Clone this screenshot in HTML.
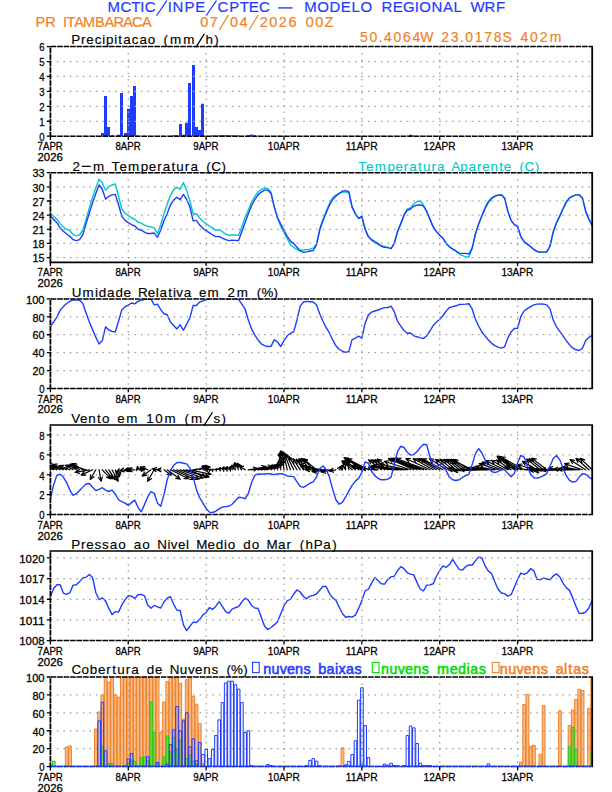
<!DOCTYPE html>
<html><head><meta charset="utf-8"><title>Meteograma</title>
<style>html,body{margin:0;padding:0;background:#fff}svg{display:block}text{font-family:"Liberation Sans",sans-serif}</style>
</head><body>
<svg width="612" height="792" viewBox="0 0 612 792" font-family="Liberation Sans, sans-serif">
<rect width="612" height="792" fill="#fff"/>
<clipPath id="c0"><rect x="50.4" y="46.1" width="541.8" height="90.6"/></clipPath>
<clipPath id="c1"><rect x="50.4" y="172.2" width="541.8" height="90.6"/></clipPath>
<clipPath id="c2"><rect x="50.4" y="298.4" width="541.8" height="90.6"/></clipPath>
<clipPath id="c3"><rect x="50.4" y="424.5" width="541.8" height="90.6"/></clipPath>
<clipPath id="c4"><rect x="50.4" y="550.5" width="541.8" height="90.6"/></clipPath>
<clipPath id="c5"><rect x="50.4" y="676.5" width="541.8" height="90.6"/></clipPath>
<g clip-path="url(#c0)">
<path d="M101 132.91h3V136.2h-3zM104 96.03h3V136.2h-3zM107 126.94h3V136.2h-3zM111 135.15h3V136.2h-3zM117 134.71h3V136.2h-3zM120 93.04h3V136.2h-3zM124 132.91h3V136.2h-3zM127 108.87h3V136.2h-3zM130 96.03h3V136.2h-3zM133 86.02h3V136.2h-3zM136 135.45h3V136.2h-3zM172 135.3h3V136.2h-3zM175 135.3h3V136.2h-3zM179 123.95h3V136.2h-3zM182 134.86h3V136.2h-3zM185 122.76h3V136.2h-3zM188 82.89h3V136.2h-3zM192 64.97h3V136.2h-3zM195 126.94h3V136.2h-3zM198 129.93h3V136.2h-3zM201 103.79h3V136.2h-3zM211 135.45h3V136.2h-3zM214 135.45h3V136.2h-3zM218 135.3h3V136.2h-3zM221 135.3h3V136.2h-3zM224 135.3h3V136.2h-3zM227 135.3h3V136.2h-3zM231 135.3h3V136.2h-3zM234 135.45h3V136.2h-3zM237 135.6h3V136.2h-3zM247 135.3h3V136.2h-3zM250 134.41h3V136.2h-3zM253 135.3h3V136.2h-3zM409 134.71h3V136.2h-3zM412 135.45h3V136.2h-3z" fill="rgb(30,60,255)"/>
</g>
<path d="M50.4 136.2H592.2M50.4 121.27H592.2M50.4 106.33H592.2M50.4 91.4H592.2M50.4 76.47H592.2M50.4 61.53H592.2M50.4 46.6H592.2" stroke="rgb(160,160,160)" stroke-width="1.25" stroke-dasharray="1.6 4.88" fill="none"/>
<path d="M50.4 46.6V136.2M128.26 46.6V136.2M206.13 46.6V136.2M283.99 46.6V136.2M361.85 46.6V136.2M439.72 46.6V136.2M517.58 46.6V136.2" stroke="rgb(160,160,160)" stroke-width="1.25" stroke-dasharray="1.6 4.88" fill="none"/>
<path d="M49.6 46.6H593" stroke="#000" stroke-width="1.5" stroke-dasharray="5.5 0.98" stroke-dashoffset="-1.2" fill="none"/>
<path d="M49.6 136.2H593" stroke="#000" stroke-width="1.5" stroke-dasharray="5.5 0.98" stroke-dashoffset="-1.2" fill="none"/>
<path d="M50.4 46.6V136.2" stroke="#000" stroke-width="1.8" stroke-dasharray="5.5 0.98" stroke-dashoffset="-1.2" fill="none"/>
<path d="M592.2 46.6V136.2" stroke="#000" stroke-width="1.8" fill="none"/>
<path d="M46.8 136.2H50.4M46.8 121.27H50.4M46.8 106.33H50.4M46.8 91.4H50.4M46.8 76.47H50.4M46.8 61.53H50.4M46.8 46.6H50.4M50.4 136.2V140M128.26 136.2V140M206.13 136.2V140M283.99 136.2V140M361.85 136.2V140M439.72 136.2V140M517.58 136.2V140" stroke="#000" stroke-width="1.3" fill="none"/>
<text x="44.6" y="140.95" font-size="11.3" fill="#000" textLength="5.33" lengthAdjust="spacingAndGlyphs" text-anchor="end" stroke="#000" stroke-width="0.28" xml:space="preserve">0</text>
<text x="44.6" y="126.02" font-size="11.3" fill="#000" textLength="5.33" lengthAdjust="spacingAndGlyphs" text-anchor="end" stroke="#000" stroke-width="0.28" xml:space="preserve">1</text>
<text x="44.6" y="111.08" font-size="11.3" fill="#000" textLength="5.33" lengthAdjust="spacingAndGlyphs" text-anchor="end" stroke="#000" stroke-width="0.28" xml:space="preserve">2</text>
<text x="44.6" y="96.15" font-size="11.3" fill="#000" textLength="5.33" lengthAdjust="spacingAndGlyphs" text-anchor="end" stroke="#000" stroke-width="0.28" xml:space="preserve">3</text>
<text x="44.6" y="81.22" font-size="11.3" fill="#000" textLength="5.33" lengthAdjust="spacingAndGlyphs" text-anchor="end" stroke="#000" stroke-width="0.28" xml:space="preserve">4</text>
<text x="44.6" y="66.28" font-size="11.3" fill="#000" textLength="5.33" lengthAdjust="spacingAndGlyphs" text-anchor="end" stroke="#000" stroke-width="0.28" xml:space="preserve">5</text>
<text x="44.6" y="51.35" font-size="11.3" fill="#000" textLength="5.33" lengthAdjust="spacingAndGlyphs" text-anchor="end" stroke="#000" stroke-width="0.28" xml:space="preserve">6</text>
<text x="50.2" y="150.2" font-size="11.3" fill="#000" textLength="25.31" lengthAdjust="spacingAndGlyphs" text-anchor="middle" stroke="#000" stroke-width="0.28" xml:space="preserve">7APR</text>
<text x="128.06" y="150.2" font-size="11.3" fill="#000" textLength="25.31" lengthAdjust="spacingAndGlyphs" text-anchor="middle" stroke="#000" stroke-width="0.28" xml:space="preserve">8APR</text>
<text x="205.93" y="150.2" font-size="11.3" fill="#000" textLength="25.31" lengthAdjust="spacingAndGlyphs" text-anchor="middle" stroke="#000" stroke-width="0.28" xml:space="preserve">9APR</text>
<text x="283.79" y="150.2" font-size="11.3" fill="#000" textLength="31.97" lengthAdjust="spacingAndGlyphs" text-anchor="middle" stroke="#000" stroke-width="0.28" xml:space="preserve">10APR</text>
<text x="361.65" y="150.2" font-size="11.3" fill="#000" textLength="31.97" lengthAdjust="spacingAndGlyphs" text-anchor="middle" stroke="#000" stroke-width="0.28" xml:space="preserve">11APR</text>
<text x="439.52" y="150.2" font-size="11.3" fill="#000" textLength="31.97" lengthAdjust="spacingAndGlyphs" text-anchor="middle" stroke="#000" stroke-width="0.28" xml:space="preserve">12APR</text>
<text x="517.38" y="150.2" font-size="11.3" fill="#000" textLength="31.97" lengthAdjust="spacingAndGlyphs" text-anchor="middle" stroke="#000" stroke-width="0.28" xml:space="preserve">13APR</text>
<text x="50.2" y="161.1" font-size="11.3" fill="#000" textLength="25.31" lengthAdjust="spacingAndGlyphs" text-anchor="middle" stroke="#000" stroke-width="0.28" xml:space="preserve">2026</text>
<g clip-path="url(#c1)">
<polyline points="50.4,213.26 53.64,216.56 56.89,219.39 60.13,223.63 63.38,226.93 66.62,229.29 69.87,230.7 73.11,234.48 76.35,235.89 79.6,234.95 82.84,230.23 86.09,219.39 89.33,207.6 92.58,197.22 95.82,187.79 99.06,179.3 102.31,183.07 105.55,190.15 108.8,186.38 112.04,184.96 115.29,184.02 118.53,196.28 121.77,209.01 125.02,213.26 128.26,215.61 131.51,217.97 134.75,219.15 138,222.22 141.24,223.16 144.49,225.05 147.73,226.46 150.97,226.93 154.22,227.87 157.46,233.53 160.71,225.05 163.95,213.73 167.2,204.3 170.44,195.34 173.68,189.68 176.93,187.32 180.17,189.21 183.42,182.6 186.66,190.62 189.91,200.99 193.15,213.73 196.39,213.73 199.64,217.97 202.88,221.51 206.13,223.63 209.37,225.99 212.62,227.87 215.86,230.42 219.1,229.76 222.35,231.65 225.59,234.01 228.84,235.42 232.08,234.95 235.33,234.95 238.57,235.42 241.81,226.93 245.06,217.5 248.3,209.95 251.55,202.41 254.79,196.28 258.04,192.03 261.28,189.44 264.52,188.26 267.77,188.5 271.01,192.03 274.26,206.65 277.5,217.97 280.75,226.46 283.99,232.59 287.23,238.72 290.48,244.85 293.72,247.21 296.97,249.57 300.21,250.51 303.46,250.04 306.7,249.57 309.94,249.1 313.19,248.15 316.43,244.38 319.68,229.29 322.92,219.39 326.17,211.37 329.41,203.82 332.66,197.46 335.9,194.86 339.14,193.45 342.39,192.03 345.63,192.03 348.88,192.51 352.12,207.13 355.37,213.73 358.61,218.44 361.85,216.32 365.1,229.29 368.34,236.36 371.59,239.43 374.83,241.31 378.08,243.44 381.32,245.56 384.56,246.74 387.81,247.45 391.05,248.62 394.3,243.44 397.54,231.65 400.79,223.63 404.03,214.67 407.27,209.01 410.52,207.83 413.76,204.06 417.01,201.47 420.25,200.99 423.5,205.24 426.74,211.37 429.98,219.39 433.23,226.93 436.47,231.65 439.72,235.18 442.96,238.25 446.21,243.44 449.45,246.74 452.69,249.1 455.94,251.22 459.18,254.05 462.43,255.7 465.67,256.64 468.92,257.11 472.16,248.62 475.4,234.01 478.65,224.1 481.89,215.61 485.14,207.13 488.38,200.99 491.63,197.69 494.87,196.04 498.11,195.1 501.36,194.86 504.6,198.17 507.85,211.37 511.09,220.33 514.34,224.57 517.58,226.46 520.83,236.6 524.07,241.55 527.31,243.91 530.56,246.5 533.8,249.33 537.05,251.45 540.29,252.16 543.54,252.16 546.78,251.93 550.02,246.27 553.27,231.65 556.51,222.69 559.76,216.09 563,208.54 566.25,201.47 569.49,197.69 572.73,196.04 575.98,194.86 579.22,194.86 582.47,198.17 585.71,211.37 588.96,219.39 592.2,225.99" fill="none" stroke="rgb(0,200,200)" stroke-width="1.4" stroke-linejoin="round" stroke-linecap="round"/>
<polyline points="50.4,216.09 53.64,219.39 56.89,222.69 60.13,227.87 63.38,231.18 66.62,234.01 69.87,236.36 73.11,239.66 76.35,240.61 79.6,239.66 82.84,234.48 86.09,223.63 89.33,212.78 92.58,202.88 95.82,193.45 99.06,184.96 102.31,189.21 105.55,199.11 108.8,196.28 112.04,194.86 115.29,194.39 118.53,204.77 121.77,216.09 125.02,220.33 128.26,222.69 131.51,224.57 134.75,225.99 138,229.05 141.24,230.23 144.49,232.12 147.73,233.53 150.97,233.53 154.22,233.06 157.46,237.31 160.71,230.23 163.95,220.8 167.2,213.73 170.44,204.77 173.68,200.05 176.93,197.22 180.17,199.58 183.42,194.39 186.66,199.58 189.91,207.13 193.15,220.8 196.39,220.33 199.64,225.05 202.88,228.35 206.13,230.7 209.37,232.59 212.62,234.95 215.86,236.6 219.1,236.36 222.35,238.01 225.59,239.66 228.84,240.61 232.08,240.14 235.33,240.37 238.57,240.61 241.81,231.65 245.06,222.69 248.3,213.73 251.55,205.71 254.79,199.58 258.04,194.86 261.28,192.03 264.52,190.15 267.77,190.15 271.01,193.45 274.26,207.13 277.5,217.5 280.75,224.1 283.99,230.23 287.23,236.36 290.48,241.08 293.72,243.44 296.97,247.21 300.21,250.98 303.46,252.4 306.7,251.93 309.94,250.98 313.19,250.51 316.43,244.85 319.68,230.23 322.92,220.8 326.17,212.78 329.41,205.24 332.66,199.58 335.9,196.28 339.14,193.45 342.39,191.09 345.63,190.62 348.88,191.56 352.12,207.13 355.37,213.73 358.61,218.44 361.85,216.32 365.1,229.29 368.34,236.6 371.59,240.14 374.83,242.02 378.08,244.14 381.32,246.27 384.56,247.21 387.81,247.68 391.05,248.62 394.3,243.44 397.54,231.65 400.79,223.63 404.03,215.14 407.27,210.43 410.52,209.01 413.76,206.18 417.01,205.24 420.25,204.77 423.5,206.18 426.74,211.37 429.98,219.39 433.23,226.93 436.47,231.65 439.72,235.18 442.96,238.25 446.21,243.44 449.45,246.74 452.69,249.1 455.94,250.98 459.18,253.1 462.43,253.34 465.67,253.34 468.92,254.05 472.16,248.15 475.4,234.01 478.65,224.1 481.89,216.09 485.14,208.54 488.38,202.41 491.63,198.64 494.87,196.28 498.11,195.1 501.36,194.86 504.6,198.17 507.85,211.37 511.09,220.33 514.34,224.57 517.58,226.46 520.83,236.6 524.07,241.55 527.31,244.14 530.56,246.74 533.8,249.57 537.05,251.45 540.29,252.16 543.54,252.16 546.78,251.93 550.02,246.27 553.27,231.65 556.51,222.69 559.76,216.09 563,209.01 566.25,202.41 569.49,198.17 572.73,196.04 575.98,194.86 579.22,194.86 582.47,198.17 585.71,211.37 588.96,219.39 592.2,225.52" fill="none" stroke="rgb(30,60,255)" stroke-width="1.4" stroke-linejoin="round" stroke-linecap="round"/>
</g>
<path d="M50.4 257.58H592.2M50.4 243.44H592.2M50.4 229.29H592.2M50.4 215.14H592.2M50.4 200.99H592.2M50.4 186.85H592.2M50.4 172.7H592.2" stroke="rgb(160,160,160)" stroke-width="1.25" stroke-dasharray="1.6 4.88" fill="none"/>
<path d="M50.4 172.7V262.3M128.26 172.7V262.3M206.13 172.7V262.3M283.99 172.7V262.3M361.85 172.7V262.3M439.72 172.7V262.3M517.58 172.7V262.3" stroke="rgb(160,160,160)" stroke-width="1.25" stroke-dasharray="1.6 4.88" fill="none"/>
<path d="M49.6 172.7H593" stroke="#000" stroke-width="1.5" stroke-dasharray="5.5 0.98" stroke-dashoffset="-1.2" fill="none"/>
<path d="M49.6 262.3H593" stroke="#000" stroke-width="1.8" fill="none"/>
<path d="M50.4 172.7V262.3" stroke="#000" stroke-width="1.8" stroke-dasharray="5.5 0.98" stroke-dashoffset="-1.2" fill="none"/>
<path d="M592.2 172.7V262.3" stroke="#000" stroke-width="1.8" fill="none"/>
<path d="M46.8 257.58H50.4M46.8 243.44H50.4M46.8 229.29H50.4M46.8 215.14H50.4M46.8 200.99H50.4M46.8 186.85H50.4M46.8 172.7H50.4M50.4 262.3V266.1M128.26 262.3V266.1M206.13 262.3V266.1M283.99 262.3V266.1M361.85 262.3V266.1M439.72 262.3V266.1M517.58 262.3V266.1" stroke="#000" stroke-width="1.3" fill="none"/>
<text x="44.6" y="262.33" font-size="11.3" fill="#000" textLength="11.99" lengthAdjust="spacingAndGlyphs" text-anchor="end" stroke="#000" stroke-width="0.28" xml:space="preserve">15</text>
<text x="44.6" y="248.19" font-size="11.3" fill="#000" textLength="11.99" lengthAdjust="spacingAndGlyphs" text-anchor="end" stroke="#000" stroke-width="0.28" xml:space="preserve">18</text>
<text x="44.6" y="234.04" font-size="11.3" fill="#000" textLength="11.99" lengthAdjust="spacingAndGlyphs" text-anchor="end" stroke="#000" stroke-width="0.28" xml:space="preserve">21</text>
<text x="44.6" y="219.89" font-size="11.3" fill="#000" textLength="11.99" lengthAdjust="spacingAndGlyphs" text-anchor="end" stroke="#000" stroke-width="0.28" xml:space="preserve">24</text>
<text x="44.6" y="205.74" font-size="11.3" fill="#000" textLength="11.99" lengthAdjust="spacingAndGlyphs" text-anchor="end" stroke="#000" stroke-width="0.28" xml:space="preserve">27</text>
<text x="44.6" y="191.6" font-size="11.3" fill="#000" textLength="11.99" lengthAdjust="spacingAndGlyphs" text-anchor="end" stroke="#000" stroke-width="0.28" xml:space="preserve">30</text>
<text x="44.6" y="177.45" font-size="11.3" fill="#000" textLength="11.99" lengthAdjust="spacingAndGlyphs" text-anchor="end" stroke="#000" stroke-width="0.28" xml:space="preserve">33</text>
<text x="50.2" y="276.3" font-size="11.3" fill="#000" textLength="25.31" lengthAdjust="spacingAndGlyphs" text-anchor="middle" stroke="#000" stroke-width="0.28" xml:space="preserve">7APR</text>
<text x="128.06" y="276.3" font-size="11.3" fill="#000" textLength="25.31" lengthAdjust="spacingAndGlyphs" text-anchor="middle" stroke="#000" stroke-width="0.28" xml:space="preserve">8APR</text>
<text x="205.93" y="276.3" font-size="11.3" fill="#000" textLength="25.31" lengthAdjust="spacingAndGlyphs" text-anchor="middle" stroke="#000" stroke-width="0.28" xml:space="preserve">9APR</text>
<text x="283.79" y="276.3" font-size="11.3" fill="#000" textLength="31.97" lengthAdjust="spacingAndGlyphs" text-anchor="middle" stroke="#000" stroke-width="0.28" xml:space="preserve">10APR</text>
<text x="361.65" y="276.3" font-size="11.3" fill="#000" textLength="31.97" lengthAdjust="spacingAndGlyphs" text-anchor="middle" stroke="#000" stroke-width="0.28" xml:space="preserve">11APR</text>
<text x="439.52" y="276.3" font-size="11.3" fill="#000" textLength="31.97" lengthAdjust="spacingAndGlyphs" text-anchor="middle" stroke="#000" stroke-width="0.28" xml:space="preserve">12APR</text>
<text x="517.38" y="276.3" font-size="11.3" fill="#000" textLength="31.97" lengthAdjust="spacingAndGlyphs" text-anchor="middle" stroke="#000" stroke-width="0.28" xml:space="preserve">13APR</text>
<text x="50.2" y="287.2" font-size="11.3" fill="#000" textLength="25.31" lengthAdjust="spacingAndGlyphs" text-anchor="middle" stroke="#000" stroke-width="0.28" xml:space="preserve">2026</text>
<g clip-path="url(#c2)">
<polyline points="50.4,326.41 53.64,322.02 56.89,317.18 60.13,310.28 63.38,306.61 66.62,303.47 69.87,301.41 73.11,299.98 76.35,299.89 79.6,300.24 82.84,303.47 86.09,313.06 89.33,322.02 92.58,329.63 95.82,337.16 99.06,344.06 102.31,340.56 105.55,326.86 108.8,329.99 112.04,331.42 115.29,331.96 118.53,321.3 121.77,310.01 125.02,306.87 128.26,305.17 131.51,303.02 134.75,303.83 138,301.41 141.24,300.24 144.49,299.35 147.73,299.35 150.97,299.17 154.22,304.81 157.46,304.1 160.71,309.65 163.95,313.77 167.2,314.76 170.44,322.02 173.68,325.42 176.93,328.92 180.17,324.79 183.42,330.26 186.66,324.08 189.91,317.9 193.15,305.53 196.39,305.53 199.64,302.04 202.88,300.96 206.13,299.89 209.37,298.9 212.62,298.9 215.86,298.9 219.1,298.9 222.35,298.9 225.59,298.9 228.84,298.9 232.08,298.9 235.33,298.9 238.57,299.35 241.81,304.1 245.06,308.94 248.3,319.96 251.55,328.92 254.79,335.1 258.04,339.94 261.28,343.79 264.52,345.67 267.77,346.48 271.01,346.39 274.26,339.67 277.5,342 280.75,346.48 283.99,340.56 287.23,335.82 290.48,333.31 293.72,331.69 296.97,319.96 300.21,306.16 303.46,302.04 306.7,301.41 309.94,301.68 313.19,302.04 316.43,304.81 319.68,313.77 322.92,321.3 326.17,327.57 329.41,332.77 332.66,339.94 335.9,345.67 339.14,349.26 342.39,351.23 345.63,352.3 348.88,351.32 352.12,339.67 355.37,338.23 358.61,336.17 361.85,338.06 365.1,323.36 368.34,315.12 371.59,312.07 374.83,311 378.08,310.01 381.32,308.58 384.56,307.59 387.81,307.59 391.05,306.16 394.3,311.71 397.54,321.3 400.79,326.14 404.03,330.53 407.27,333.31 410.52,333.04 413.76,335.82 417.01,336.71 420.25,337.88 423.5,338.5 426.74,335.82 429.98,330.98 433.23,325.42 436.47,322.02 439.72,319.24 442.96,315.83 446.21,311 449.45,307.59 452.69,306.61 455.94,305.8 459.18,304.54 462.43,304.37 465.67,304.1 468.92,303.74 472.16,308.94 475.4,319.24 478.65,326.14 481.89,331.96 485.14,336.08 488.38,339.94 491.63,343.34 494.87,345.67 498.11,347.19 501.36,348.18 504.6,346.84 507.85,337.88 511.09,331.96 514.34,328.47 517.58,328.2 520.83,316.55 524.07,311 527.31,308.58 530.56,306.61 533.8,304.81 537.05,304.1 540.29,303.83 543.54,304.1 546.78,304.81 550.02,308.94 553.27,319.96 556.51,326.86 559.76,331.42 563,335.82 566.25,340.56 569.49,344.78 572.73,347.91 575.98,349.79 579.22,350.51 582.47,348.18 585.71,340.56 588.96,337.43 592.2,335.37" fill="none" stroke="rgb(30,60,255)" stroke-width="1.4" stroke-linejoin="round" stroke-linecap="round"/>
</g>
<path d="M50.4 388.5H592.2M50.4 370.58H592.2M50.4 352.66H592.2M50.4 334.74H592.2M50.4 316.82H592.2M50.4 298.9H592.2" stroke="rgb(160,160,160)" stroke-width="1.25" stroke-dasharray="1.6 4.88" fill="none"/>
<path d="M50.4 298.9V388.5M128.26 298.9V388.5M206.13 298.9V388.5M283.99 298.9V388.5M361.85 298.9V388.5M439.72 298.9V388.5M517.58 298.9V388.5" stroke="rgb(160,160,160)" stroke-width="1.25" stroke-dasharray="1.6 4.88" fill="none"/>
<path d="M49.6 298.9H593" stroke="#000" stroke-width="1.5" stroke-dasharray="5.5 0.98" stroke-dashoffset="-1.2" fill="none"/>
<path d="M49.6 388.5H593" stroke="#000" stroke-width="1.5" stroke-dasharray="5.5 0.98" stroke-dashoffset="-1.2" fill="none"/>
<path d="M50.4 298.9V388.5" stroke="#000" stroke-width="1.8" stroke-dasharray="5.5 0.98" stroke-dashoffset="-1.2" fill="none"/>
<path d="M592.2 298.9V388.5" stroke="#000" stroke-width="1.8" fill="none"/>
<path d="M46.8 388.5H50.4M46.8 370.58H50.4M46.8 352.66H50.4M46.8 334.74H50.4M46.8 316.82H50.4M46.8 298.9H50.4M50.4 388.5V392.3M128.26 388.5V392.3M206.13 388.5V392.3M283.99 388.5V392.3M361.85 388.5V392.3M439.72 388.5V392.3M517.58 388.5V392.3" stroke="#000" stroke-width="1.3" fill="none"/>
<text x="44.6" y="393.25" font-size="11.3" fill="#000" textLength="5.33" lengthAdjust="spacingAndGlyphs" text-anchor="end" stroke="#000" stroke-width="0.28" xml:space="preserve">0</text>
<text x="44.6" y="375.33" font-size="11.3" fill="#000" textLength="11.99" lengthAdjust="spacingAndGlyphs" text-anchor="end" stroke="#000" stroke-width="0.28" xml:space="preserve">20</text>
<text x="44.6" y="357.41" font-size="11.3" fill="#000" textLength="11.99" lengthAdjust="spacingAndGlyphs" text-anchor="end" stroke="#000" stroke-width="0.28" xml:space="preserve">40</text>
<text x="44.6" y="339.49" font-size="11.3" fill="#000" textLength="11.99" lengthAdjust="spacingAndGlyphs" text-anchor="end" stroke="#000" stroke-width="0.28" xml:space="preserve">60</text>
<text x="44.6" y="321.57" font-size="11.3" fill="#000" textLength="11.99" lengthAdjust="spacingAndGlyphs" text-anchor="end" stroke="#000" stroke-width="0.28" xml:space="preserve">80</text>
<text x="44.6" y="303.65" font-size="11.3" fill="#000" textLength="18.65" lengthAdjust="spacingAndGlyphs" text-anchor="end" stroke="#000" stroke-width="0.28" xml:space="preserve">100</text>
<text x="50.2" y="402.5" font-size="11.3" fill="#000" textLength="25.31" lengthAdjust="spacingAndGlyphs" text-anchor="middle" stroke="#000" stroke-width="0.28" xml:space="preserve">7APR</text>
<text x="128.06" y="402.5" font-size="11.3" fill="#000" textLength="25.31" lengthAdjust="spacingAndGlyphs" text-anchor="middle" stroke="#000" stroke-width="0.28" xml:space="preserve">8APR</text>
<text x="205.93" y="402.5" font-size="11.3" fill="#000" textLength="25.31" lengthAdjust="spacingAndGlyphs" text-anchor="middle" stroke="#000" stroke-width="0.28" xml:space="preserve">9APR</text>
<text x="283.79" y="402.5" font-size="11.3" fill="#000" textLength="31.97" lengthAdjust="spacingAndGlyphs" text-anchor="middle" stroke="#000" stroke-width="0.28" xml:space="preserve">10APR</text>
<text x="361.65" y="402.5" font-size="11.3" fill="#000" textLength="31.97" lengthAdjust="spacingAndGlyphs" text-anchor="middle" stroke="#000" stroke-width="0.28" xml:space="preserve">11APR</text>
<text x="439.52" y="402.5" font-size="11.3" fill="#000" textLength="31.97" lengthAdjust="spacingAndGlyphs" text-anchor="middle" stroke="#000" stroke-width="0.28" xml:space="preserve">12APR</text>
<text x="517.38" y="402.5" font-size="11.3" fill="#000" textLength="31.97" lengthAdjust="spacingAndGlyphs" text-anchor="middle" stroke="#000" stroke-width="0.28" xml:space="preserve">13APR</text>
<text x="50.2" y="413.4" font-size="11.3" fill="#000" textLength="25.31" lengthAdjust="spacingAndGlyphs" text-anchor="middle" stroke="#000" stroke-width="0.28" xml:space="preserve">2026</text>
<path d="M50.4 514.6H592.2M50.4 494.69H592.2M50.4 474.78H592.2M50.4 454.87H592.2M50.4 434.96H592.2" stroke="rgb(160,160,160)" stroke-width="1.25" stroke-dasharray="1.6 4.88" fill="none"/>
<path d="M50.4 425V514.6M128.26 425V514.6M206.13 425V514.6M283.99 425V514.6M361.85 425V514.6M439.72 425V514.6M517.58 425V514.6" stroke="rgb(160,160,160)" stroke-width="1.25" stroke-dasharray="1.6 4.88" fill="none"/>
<g clip-path="url(#c3)">
<path d="M50.4 469.8L43.75 467.11M43.75 467.11L46.88 470.48M43.75 467.11L48.34 466.87M53.64 469.8L40.85 464.63M40.85 464.63L43.99 467.99M40.85 464.63L45.44 464.39M56.89 469.8L40.08 463.01M40.08 463.01L43.22 466.37M40.08 463.01L44.68 462.77M60.13 469.8L42.86 462.82M42.86 462.82L46 466.19M42.86 462.82L47.45 462.58M63.38 469.8L47.3 463.3M47.3 463.3L50.44 466.67M47.3 463.3L51.89 463.06M66.62 469.8L52.89 464.25M52.89 464.25L56.03 467.62M52.89 464.25L57.48 464.01M69.87 469.8L59.37 465.56M59.37 465.56L62.51 468.93M59.37 465.56L63.97 465.32M73.11 469.8L65.46 465.2M65.46 465.2L68.03 469.02M65.46 465.2L70.04 465.68M76.35 469.8L68.07 464.82M68.07 464.82L70.65 468.64M68.07 464.82L72.65 465.31M79.6 469.8L70.02 464.04M70.02 464.04L72.59 467.86M70.02 464.04L74.59 464.52M82.84 469.8L71.96 463.26M71.96 463.26L74.53 467.07M71.96 463.26L76.54 463.74M86.09 469.8L72.54 465.66M72.54 465.66L75.96 468.74M72.54 465.66L77.09 465.02M89.33 469.8L75.2 472.29M75.2 472.29L79.64 473.48M75.2 472.29L78.97 469.65M92.58 469.8L81.15 475.13M81.15 475.13L85.75 475.13M81.15 475.13L84.11 471.6M95.82 469.8L90.25 479.44M90.25 479.44L94.02 476.8M90.25 479.44L90.66 474.86M99.06 469.8L101.09 481.26M101.09 481.26L102.28 476.82M101.09 481.26L98.45 477.49M102.31 469.8L110.78 478.88M110.78 478.88L109.36 474.51M110.78 478.88L106.51 477.16M105.55 469.8L112.52 478.72M112.52 478.72L111.49 474.24M112.52 478.72L108.42 476.63M108.8 469.8L115.19 479.65M115.19 479.65L114.55 475.09M115.19 479.65L111.29 477.21M112.04 469.8L118.15 481.29M118.15 481.29L117.91 476.7M118.15 481.29L114.48 478.52M115.29 469.8L117.73 478.91M117.73 478.91L118.53 474.38M117.73 478.91L114.77 475.38M118.53 469.8L119.48 476.59M119.48 476.59L120.83 472.19M119.48 476.59L116.98 472.73M121.77 469.8L116.11 471.86M116.11 471.86L120.69 472.26M116.11 471.86L119.36 468.61M125.02 469.8L119.81 470.72M119.81 470.72L124.25 471.91M119.81 470.72L123.58 468.08M128.26 469.8L124.05 470.17M124.05 470.17L128.37 471.74M124.05 470.17L128.03 467.87M131.51 469.8L125.99 469.8M125.99 469.8L130.16 471.74M125.99 469.8L130.16 467.86M134.75 469.8L128.08 469.8M128.08 469.8L132.25 471.74M128.08 469.8L132.25 467.86M138 469.8L137.41 466.49M137.41 466.49L136.28 470.71M137.41 466.49L139.92 470.07M141.24 469.8L140.13 469.16M140.13 469.16L141.62 471.29M140.13 469.16L142.72 469.38M144.49 469.8L140.86 466.97M140.86 466.97L142.95 471.07M140.86 466.97L145.34 468M147.73 469.8L140.08 467.02M140.08 467.02L143.33 470.27M140.08 467.02L144.66 466.61M150.97 469.8L142.34 476.07M142.34 476.07L146.86 475.2M142.34 476.07L144.57 472.05M154.22 469.8L147.57 481.31M147.57 481.31L151.34 478.67M147.57 481.31L147.97 476.73M157.46 469.8L152.25 468.88M152.25 468.88L156.02 471.52M152.25 468.88L156.7 467.69M160.71 469.8L156.84 469.8M156.84 469.8L161.01 471.74M156.84 469.8L161.01 467.86M163.95 469.8L171.32 475.15M171.32 475.15L169.09 471.13M171.32 475.15L166.8 474.28M167.2 469.8L180.22 479.26M180.22 479.26L177.99 475.24M180.22 479.26L175.7 478.39M170.44 469.8L188.63 478.67M188.63 478.67L185.74 475.1M188.63 478.67L184.03 478.59M173.68 469.8L194.4 479.24M194.4 479.24L191.42 475.74M194.4 479.24L189.8 479.28M176.93 469.8L199.03 479.18M199.03 479.18L195.95 475.76M199.03 479.18L194.43 479.34M180.17 469.8L202.87 478.06M202.87 478.06L199.61 474.81M202.87 478.06L198.28 478.46M183.42 469.8L206.12 476.74M206.12 476.74L202.7 473.66M206.12 476.74L201.56 477.38M186.66 469.8L208.93 477.04M208.93 477.04L205.56 473.9M208.93 477.04L204.36 477.6M189.91 469.8L210.92 474.27M210.92 474.27L207.24 471.5M210.92 474.27L206.44 475.3M193.15 469.8L210.23 466.79M210.23 466.79L205.78 465.6M210.23 466.79L206.46 469.43M196.39 469.8L207.46 466.2M207.46 466.2L202.9 465.64M207.46 466.2L204.1 469.34M199.64 469.8L206.41 465.89M206.41 465.89L201.83 466.29M206.41 465.89L203.77 469.66M202.88 469.8L207.16 466.69M207.16 466.69L202.65 467.57M207.16 466.69L204.93 470.71M206.13 469.8L208.31 467.97M208.31 467.97L204.73 468.93M208.31 467.97L206.74 471.33M209.37 469.8L210.11 468.92M210.11 468.92L207.75 470.02M210.11 468.92L209.44 471.43M212.62 469.8L213.24 469.06M213.24 469.06L210.88 470.16M213.24 469.06L212.56 471.57M215.86 469.8L216.89 468.57M216.89 468.57L214.54 469.67M216.89 468.57L216.22 471.08M219.1 469.8L220.42 467.53M220.42 467.53L217.62 469.48M220.42 467.53L220.12 470.92M222.35 469.8L224.1 466.77M224.1 466.77L220.37 469.38M224.1 466.77L223.7 471.3M225.59 469.8L227.43 466.61M227.43 466.61L223.66 469.25M227.43 466.61L227.03 471.2M228.84 469.8L230.77 466.45M230.77 466.45L227 469.09M230.77 466.45L230.37 471.04M232.08 469.8L232.08 465.02M232.08 465.02L230.14 469.19M232.08 465.02L234.03 469.19M235.33 469.8L234.21 463.46M234.21 463.46L233.02 467.9M234.21 463.46L236.85 467.23M238.57 469.8L234.81 462.73M234.81 462.73L235.05 467.33M234.81 462.73L238.49 465.5M241.81 469.8L237.44 463.32M237.44 463.32L238.16 467.86M237.44 463.32L241.38 465.69M245.06 469.8L239 465.71M239 465.71L241.36 469.65M239 465.71L243.54 466.43M248.3 469.8L257.87 468.46M257.87 468.46L253.47 467.11M257.87 468.46L254.01 470.96M251.55 469.8L265.98 466.47M265.98 466.47L261.48 465.51M265.98 466.47L262.35 469.3M254.79 469.8L272.52 466.03M272.52 466.03L268.04 465M272.52 466.03L268.85 468.8M258.04 469.8L276.39 465.9M276.39 465.9L271.91 464.86M276.39 465.9L272.72 468.67M261.28 469.8L279.43 465.61M279.43 465.61L274.93 464.65M279.43 465.61L275.81 468.44M264.52 469.8L282.61 464.61M282.61 464.61L278.07 463.89M282.61 464.61L279.14 467.63M267.77 469.8L284.95 461.79M284.95 461.79L280.35 461.79M284.95 461.79L281.99 465.31M271.01 469.8L284.96 457.24M284.96 457.24L280.56 458.59M284.96 457.24L283.16 461.48M274.26 469.8L282.36 453.18M282.36 453.18L278.79 456.07M282.36 453.18L282.28 457.78M277.5 469.8L280.76 451.32M280.76 451.32L278.12 455.09M280.76 451.32L281.95 455.76M280.75 469.8L280.75 450.85M280.75 450.85L278.8 455.02M280.75 450.85L282.69 455.02M283.99 469.8L282.04 451.27M282.04 451.27L280.55 455.62M282.04 451.27L284.41 455.22M287.23 469.8L283.52 452.34M283.52 452.34L282.49 456.82M283.52 452.34L286.29 456.02M290.48 469.8L284.44 453.2M284.44 453.2L284.04 457.78M284.44 453.2L287.69 456.45M293.72 469.8L286.04 454.05M286.04 454.05L286.12 458.65M286.04 454.05L289.62 456.94M296.97 469.8L289.17 456.83M289.17 456.83L289.65 461.4M289.17 456.83L292.99 459.4M300.21 469.8L293.12 458.88M293.12 458.88L293.76 463.44M293.12 458.88L297.02 461.32M303.46 469.8L296.59 459.23M296.59 459.23L297.23 463.78M296.59 459.23L300.49 461.67M306.7 469.8L298.94 458.72M298.94 458.72L299.74 463.25M298.94 458.72L302.93 461.02M309.94 469.8L301.02 458.38M301.02 458.38L302.06 462.86M301.02 458.38L305.12 460.47M313.19 469.8L303.06 458.55M303.06 458.55L304.41 462.95M303.06 458.55L307.3 460.35M316.43 469.8L303.15 458.65M303.15 458.65L305.09 462.82M303.15 458.65L307.59 459.84M319.68 469.8L299.24 464.32M299.24 464.32L302.76 467.28M299.24 464.32L303.77 463.52M322.92 469.8L300.69 466.68M300.69 466.68L304.55 469.18M300.69 466.68L305.09 465.33M326.17 469.8L305.33 469.8M305.33 469.8L309.5 471.74M305.33 469.8L309.5 467.86M329.41 469.8L312.16 471.61M312.16 471.61L316.51 473.11M312.16 471.61L316.11 469.24M332.66 469.8L321.23 472.02M321.23 472.02L325.69 473.13M321.23 472.02L324.95 469.32M335.9 469.8L329.15 470.99M329.15 470.99L333.59 472.18M329.15 470.99L332.92 468.35M339.14 469.8L341.54 465.66M341.54 465.66L337.77 468.3M341.54 465.66L341.13 470.24M342.39 469.8L343.36 464.27M343.36 464.27L340.72 468.04M343.36 464.27L344.55 468.72M345.63 469.8L345.35 461.66M345.35 461.66L343.55 465.9M345.35 461.66L347.44 465.76M348.88 469.8L346.59 459.05M346.59 459.05L345.56 463.53M346.59 459.05L349.36 462.72M352.12 469.8L341.76 461.11M341.76 461.11L343.71 465.28M341.76 461.11L346.2 462.3M355.37 469.8L343.02 460.5M343.02 460.5L345.18 464.56M343.02 460.5L347.52 461.45M358.61 469.8L344.57 460.68M344.57 460.68L347 464.58M344.57 460.68L349.12 461.32M361.85 469.8L345.84 458.59M345.84 458.59L348.14 462.57M345.84 458.59L350.37 459.39M365.1 469.8L344.02 457.63M344.02 457.63L346.66 461.4M344.02 457.63L348.61 458.03M368.34 469.8L347.38 458.66M347.38 458.66L350.15 462.33M347.38 458.66L351.98 458.9M371.59 469.8L352.1 465.66M352.1 465.66L355.78 468.43M352.1 465.66L356.59 464.62M374.83 469.8L357.02 467.3M357.02 467.3L360.88 469.8M357.02 467.3L361.42 465.95M378.08 469.8L361.4 468.34M361.4 468.34L365.38 470.64M361.4 468.34L365.72 466.77M381.32 469.8L368.63 459.89M368.63 459.89L370.72 463.99M368.63 459.89L373.11 460.92M384.56 469.8L371.88 459.89M371.88 459.89L373.97 463.99M371.88 459.89L376.36 460.92M387.81 469.8L374.87 459.69M374.87 459.69L376.96 463.79M374.87 459.69L379.35 460.72M391.05 469.8L377.39 459.12M377.39 459.12L379.48 463.22M377.39 459.12L381.87 460.16M394.3 469.8L371.33 467.39M371.33 467.39L375.27 469.76M371.33 467.39L375.68 465.89M397.54 469.8L368.53 467.26M368.53 467.26L372.52 469.56M368.53 467.26L372.86 465.69M400.79 469.8L369.31 466.49M369.31 466.49L373.25 468.86M369.31 466.49L373.66 464.99M404.03 469.8L373.33 465.49M373.33 465.49L377.19 467.99M373.33 465.49L377.73 464.14M407.27 469.8L379.11 463.81M379.11 463.81L382.78 466.58M379.11 463.81L383.59 462.78M410.52 469.8L384.36 461.3M384.36 461.3L387.72 464.44M384.36 461.3L388.92 460.74M413.76 469.8L388.43 458.51M388.43 458.51L391.44 461.98M388.43 458.51L393.03 458.43M417.01 469.8L390.17 458.51M390.17 458.51L393.26 461.92M390.17 458.51L394.76 458.33M420.25 469.8L391.38 458.51M391.38 458.51L394.55 461.84M391.38 458.51L395.97 458.22M423.5 469.8L393.05 458.51M393.05 458.51L396.28 461.78M393.05 458.51L397.63 458.14M426.74 469.8L396.49 458.51M396.49 458.51L399.71 461.79M396.49 458.51L401.07 458.15M429.98 469.8L405.91 458.51M405.91 458.51L408.86 462.04M405.91 458.51L410.51 458.52M433.23 469.8L413.09 458.51M413.09 458.51L415.77 462.24M413.09 458.51L417.67 458.85M436.47 469.8L417.44 458.51M417.44 458.51L420.04 462.31M417.44 458.51L422.02 458.96M439.72 469.8L419.68 458.51M419.68 458.51L422.36 462.25M419.68 458.51L424.27 458.86M442.96 469.8L422.08 458.51M422.08 458.51L424.83 462.2M422.08 458.51L426.68 458.78M446.21 469.8L429.41 458.51M429.41 458.51L431.78 462.45M429.41 458.51L433.95 459.22M449.45 469.8L435.61 459.35M435.61 459.35L437.77 463.41M435.61 459.35L440.11 460.31M452.69 469.8L440.45 459.35M440.45 459.35L442.36 463.53M440.45 459.35L444.88 460.57M455.94 469.8L444.12 459.35M444.12 459.35L445.96 463.56M444.12 459.35L448.53 460.65M459.18 469.8L446.94 459.35M446.94 459.35L448.85 463.53M446.94 459.35L451.37 460.57M462.43 469.8L448.82 459.35M448.82 459.35L450.94 463.43M448.82 459.35L453.31 460.34M465.67 469.8L451.04 459.35M451.04 459.35L453.3 463.35M451.04 459.35L455.56 460.19M468.92 469.8L453.5 459.35M453.5 459.35L455.86 463.29M453.5 459.35L458.04 460.08M472.16 469.8L451.57 459.35M451.57 459.35L454.41 462.97M451.57 459.35L456.17 459.5M475.4 469.8L447.27 468.82M447.27 468.82L451.37 470.91M447.27 468.82L451.5 467.02M478.65 469.8L448.15 469.8M448.15 469.8L452.32 471.74M448.15 469.8L452.32 467.86M481.89 469.8L453.44 470.79M453.44 470.79L457.67 472.59M453.44 470.79L457.54 468.71M485.14 469.8L459.84 469.8M459.84 469.8L464.01 471.74M459.84 469.8L464.01 467.86M488.38 469.8L466.61 468.66M466.61 468.66L470.67 470.82M466.61 468.66L470.87 466.94M491.63 469.8L471.82 467.72M471.82 467.72L475.76 470.09M471.82 467.72L476.17 466.22M494.87 469.8L475.75 466.43M475.75 466.43L479.52 469.07M475.75 466.43L480.2 465.24M498.11 469.8L479.17 463.64M479.17 463.64L482.54 466.78M479.17 463.64L483.74 463.08M501.36 469.8L482.21 462.06M482.21 462.06L485.35 465.43M482.21 462.06L486.8 461.82M504.6 469.8L485.87 460.67M485.87 460.67L488.77 464.24M485.87 460.67L490.47 460.75M507.85 469.8L491.43 460.32M491.43 460.32L494.07 464.09M491.43 460.32L496.02 460.72M511.09 469.8L496.56 460M496.56 460L498.93 463.94M496.56 460L501.11 460.72M514.34 469.8L499 458.66M499 458.66L501.23 462.68M499 458.66L503.52 459.54M517.58 469.8L497.3 457.12M497.3 457.12L499.8 460.98M497.3 457.12L501.86 457.68M520.83 469.8L497.12 456.12M497.12 456.12L499.76 459.88M497.12 456.12L501.7 456.52M524.07 469.8L500.82 456.91M500.82 456.91L503.52 460.63M500.82 456.91L505.4 457.23M527.31 469.8L505.08 466.68M505.08 466.68L508.94 469.18M505.08 466.68L509.48 465.33M530.56 469.8L512 468.18M512 468.18L515.98 470.48M512 468.18L516.32 466.6M533.8 469.8L517.62 464.54M517.62 464.54L520.98 467.68M517.62 464.54L522.18 463.98M537.05 469.8L522.47 461.38M522.47 461.38L525.1 465.15M522.47 461.38L527.05 461.78M540.29 469.8L526.63 459.12M526.63 459.12L528.71 463.22M526.63 459.12L531.11 460.16M543.54 469.8L529.36 458.73M529.36 458.73L531.45 462.83M529.36 458.73L533.84 459.76M546.78 469.8L531.85 458.13M531.85 458.13L533.93 462.23M531.85 458.13L536.33 459.17M550.02 469.8L527.66 467.84M527.66 467.84L531.65 470.14M527.66 467.84L531.98 466.27M553.27 469.8L527.34 468.89M527.34 468.89L531.44 470.98M527.34 468.89L531.57 467.1M556.51 469.8L529.19 470.28M529.19 470.28L533.4 472.15M529.19 470.28L533.33 468.26M559.76 469.8L534.49 471.12M534.49 471.12L538.76 472.85M534.49 471.12L538.55 468.96M563 469.8L541.52 469.8M541.52 469.8L545.69 471.74M541.52 469.8L545.69 467.86M566.25 469.8L548.33 468.23M548.33 468.23L552.31 470.53M548.33 468.23L552.65 466.66M569.49 469.8L553.73 468.97M553.73 468.97L557.8 471.13M553.73 468.97L558 467.25M572.73 469.8L557.76 469.02M557.76 469.02L561.82 471.17M557.76 469.02L562.02 467.29M575.98 469.8L560.72 468.46M560.72 468.46L564.7 470.76M560.72 468.46L565.04 466.89M579.22 469.8L562.14 466.79M562.14 466.79L565.91 469.43M562.14 466.79L566.59 465.6M582.47 469.8L564.55 463.63M564.55 463.63L567.86 466.83M564.55 463.63L569.12 463.15M585.71 469.8L570.09 459.65M570.09 459.65L572.52 463.55M570.09 459.65L574.64 460.29M588.96 469.8L575.97 458.31M575.97 458.31L577.8 462.53M575.97 458.31L580.38 459.62M592.2 469.8L580.39 458.39M580.39 458.39L582.04 462.69M580.39 458.39L584.74 459.89" stroke="#000" stroke-width="1.2" fill="none" stroke-linecap="round"/>
<polyline points="50.4,499.07 53.64,484.73 56.89,475.38 60.13,474.28 63.38,477.07 66.62,482.54 69.87,490.11 73.11,495.29 76.35,493.69 79.6,490.41 82.84,487.12 86.09,483.94 89.33,483.54 92.58,487.32 95.82,490.51 99.06,489.41 102.31,487.72 105.55,490.11 108.8,491.5 112.04,490.11 115.29,494.19 118.53,499.77 121.77,501.56 125.02,503.15 128.26,505.44 131.51,502.65 134.75,500.16 138,507.33 141.24,511.81 144.49,504.64 147.73,496.98 150.97,491.5 154.22,493.3 157.46,503.15 160.71,506.24 163.95,494.89 167.2,479.76 170.44,470.8 173.68,465.32 176.93,462.63 180.17,462.33 183.42,463.23 186.66,463.93 189.91,468.11 193.15,477.07 196.39,489.41 199.64,497.68 202.88,503.15 206.13,508.43 209.37,512.11 212.62,512.51 215.86,511.12 219.1,508.93 222.35,507.03 225.59,506.64 228.84,506.24 232.08,504.25 235.33,500.66 238.57,497.28 241.81,497.68 245.06,498.77 248.3,493.69 251.55,482.54 254.79,475.38 258.04,473.98 261.28,474.28 264.52,473.88 267.77,473.58 271.01,473.98 274.26,474.58 277.5,473.98 280.75,473.58 283.99,474.28 287.23,475.97 290.48,476.37 293.72,476.67 296.97,481.85 300.21,486.43 303.46,487.32 306.7,485.33 309.94,483.24 313.19,481.85 316.43,477.07 319.68,468.8 322.92,466.02 326.17,469.5 329.41,477.07 332.66,489.41 335.9,499.77 339.14,504.25 342.39,502.45 345.63,496.98 348.88,490.81 352.12,485.33 355.37,481.15 358.61,478.36 361.85,472.29 365.1,461.94 368.34,463.23 371.59,471.49 374.83,475.67 378.08,478.36 381.32,479.76 384.56,479.76 387.81,479.06 391.05,477.07 394.3,464.62 397.54,451.58 400.79,446.11 404.03,447.5 407.27,452.28 410.52,455.07 413.76,454.57 417.01,451.58 420.25,447.5 423.5,444.31 426.74,444.71 429.98,457.06 433.23,464.62 436.47,466.71 439.72,464.82 442.96,463.23 446.21,470.8 449.45,477.07 452.69,479.76 455.94,480.45 459.18,479.76 462.43,477.47 465.67,475.67 468.92,474.28 472.16,464.62 475.4,453.67 478.65,448.59 481.89,452.98 485.14,459.84 488.38,467.41 491.63,471.49 494.87,472.59 498.11,471.49 501.36,469.9 504.6,469.5 507.85,473.58 511.09,476.67 514.34,473.58 517.58,462.83 520.83,455.36 524.07,457.06 527.31,466.02 530.56,474.28 533.8,477.76 537.05,478.16 540.29,477.07 543.54,475.67 546.78,473.58 550.02,466.02 553.27,458.45 556.51,455.46 559.76,459.84 563,468.11 566.25,475.67 569.49,480.45 572.73,482.14 575.98,481.45 579.22,477.07 582.47,473.58 585.71,474.28 588.96,477.07 592.2,479.06" fill="none" stroke="rgb(30,60,255)" stroke-width="1.4" stroke-linejoin="round" stroke-linecap="round"/>
</g>
<path d="M49.6 425H593" stroke="#000" stroke-width="1.5" fill="none"/>
<path d="M49.6 514.6H593" stroke="#000" stroke-width="1.5" stroke-dasharray="5.5 0.98" stroke-dashoffset="-1.2" fill="none"/>
<path d="M50.4 425V514.6" stroke="#000" stroke-width="1.8" stroke-dasharray="5.5 0.98" stroke-dashoffset="-1.2" fill="none"/>
<path d="M592.2 425V514.6" stroke="#000" stroke-width="1.8" fill="none"/>
<path d="M46.8 514.6H50.4M46.8 494.69H50.4M46.8 474.78H50.4M46.8 454.87H50.4M46.8 434.96H50.4M50.4 514.6V518.4M128.26 514.6V518.4M206.13 514.6V518.4M283.99 514.6V518.4M361.85 514.6V518.4M439.72 514.6V518.4M517.58 514.6V518.4" stroke="#000" stroke-width="1.3" fill="none"/>
<text x="44.6" y="519.35" font-size="11.3" fill="#000" textLength="5.33" lengthAdjust="spacingAndGlyphs" text-anchor="end" stroke="#000" stroke-width="0.28" xml:space="preserve">0</text>
<text x="44.6" y="499.44" font-size="11.3" fill="#000" textLength="5.33" lengthAdjust="spacingAndGlyphs" text-anchor="end" stroke="#000" stroke-width="0.28" xml:space="preserve">2</text>
<text x="44.6" y="479.53" font-size="11.3" fill="#000" textLength="5.33" lengthAdjust="spacingAndGlyphs" text-anchor="end" stroke="#000" stroke-width="0.28" xml:space="preserve">4</text>
<text x="44.6" y="459.62" font-size="11.3" fill="#000" textLength="5.33" lengthAdjust="spacingAndGlyphs" text-anchor="end" stroke="#000" stroke-width="0.28" xml:space="preserve">6</text>
<text x="44.6" y="439.71" font-size="11.3" fill="#000" textLength="5.33" lengthAdjust="spacingAndGlyphs" text-anchor="end" stroke="#000" stroke-width="0.28" xml:space="preserve">8</text>
<text x="50.2" y="528.6" font-size="11.3" fill="#000" textLength="25.31" lengthAdjust="spacingAndGlyphs" text-anchor="middle" stroke="#000" stroke-width="0.28" xml:space="preserve">7APR</text>
<text x="128.06" y="528.6" font-size="11.3" fill="#000" textLength="25.31" lengthAdjust="spacingAndGlyphs" text-anchor="middle" stroke="#000" stroke-width="0.28" xml:space="preserve">8APR</text>
<text x="205.93" y="528.6" font-size="11.3" fill="#000" textLength="25.31" lengthAdjust="spacingAndGlyphs" text-anchor="middle" stroke="#000" stroke-width="0.28" xml:space="preserve">9APR</text>
<text x="283.79" y="528.6" font-size="11.3" fill="#000" textLength="31.97" lengthAdjust="spacingAndGlyphs" text-anchor="middle" stroke="#000" stroke-width="0.28" xml:space="preserve">10APR</text>
<text x="361.65" y="528.6" font-size="11.3" fill="#000" textLength="31.97" lengthAdjust="spacingAndGlyphs" text-anchor="middle" stroke="#000" stroke-width="0.28" xml:space="preserve">11APR</text>
<text x="439.52" y="528.6" font-size="11.3" fill="#000" textLength="31.97" lengthAdjust="spacingAndGlyphs" text-anchor="middle" stroke="#000" stroke-width="0.28" xml:space="preserve">12APR</text>
<text x="517.38" y="528.6" font-size="11.3" fill="#000" textLength="31.97" lengthAdjust="spacingAndGlyphs" text-anchor="middle" stroke="#000" stroke-width="0.28" xml:space="preserve">13APR</text>
<text x="50.2" y="539.5" font-size="11.3" fill="#000" textLength="25.31" lengthAdjust="spacingAndGlyphs" text-anchor="middle" stroke="#000" stroke-width="0.28" xml:space="preserve">2026</text>
<g clip-path="url(#c4)">
<polyline points="50.4,596.76 53.64,588.56 56.89,584.77 60.13,584.77 63.38,593.04 66.62,594.42 69.87,592.7 73.11,585.12 76.35,584.77 79.6,581.67 82.84,577.88 86.09,577.19 89.33,574.43 92.58,577.54 95.82,592.7 99.06,599.52 102.31,597.87 105.55,600.9 108.8,608.41 112.04,614.62 115.29,611.65 118.53,612.13 121.77,604.97 125.02,599.94 128.26,595.8 131.51,596.08 134.75,598.56 138,594.7 141.24,594.42 144.49,595.8 147.73,604.97 150.97,608.21 154.22,605.45 157.46,606.83 160.71,608 163.95,602 167.2,598.14 170.44,596.76 173.68,604.35 176.93,610.27 180.17,610.48 183.42,624.89 186.66,630.61 189.91,626.26 193.15,622.13 196.39,622.54 199.64,619.37 202.88,614.89 206.13,612.48 209.37,607.52 212.62,609.38 215.86,606.14 219.1,601.59 222.35,606.35 225.59,611.65 228.84,613.24 232.08,609.1 235.33,607.72 238.57,606.62 241.81,602 245.06,598.14 248.3,600.21 251.55,605.45 254.79,608 258.04,608.41 261.28,617.3 264.52,625.99 267.77,629.57 271.01,627.5 274.26,624.89 277.5,621.72 280.75,613.72 283.99,605.66 287.23,600.9 290.48,599.25 293.72,594.01 296.97,589.94 300.21,592.01 303.46,596.49 306.7,598.83 309.94,596.08 313.19,595.39 316.43,594.01 319.68,590.29 322.92,586.5 326.17,586.5 329.41,593.39 332.66,597.87 335.9,600.21 339.14,607.03 342.39,613.51 345.63,617.3 348.88,616.48 352.12,617.17 355.37,615.1 358.61,608.41 361.85,600.62 365.1,590.98 368.34,589.25 371.59,583.05 374.83,577.6 378.08,580.64 381.32,583.74 384.56,584.15 387.81,579.4 391.05,576.92 394.3,576.23 397.54,570.71 400.79,566.65 404.03,568.71 407.27,572.78 410.52,574.16 413.76,574.85 417.01,582.36 420.25,589.25 423.5,590.98 426.74,585.12 429.98,584.84 433.23,583.74 436.47,576.23 439.72,570.3 442.96,565.96 446.21,567.33 449.45,564.58 452.69,559.34 455.94,564.58 459.18,569.4 462.43,570.09 465.67,566.65 468.92,564.99 472.16,565.27 475.4,560.86 478.65,557.07 481.89,558.03 485.14,565.96 488.38,571.13 491.63,573.47 494.87,582.08 498.11,589.25 501.36,593.04 504.6,593.59 507.85,596.08 511.09,594.7 514.34,587.18 517.58,579.4 520.83,573.06 524.07,574.43 527.31,572.78 530.56,568.71 533.8,570.71 537.05,579.4 540.29,579.67 543.54,578.02 546.78,578.98 550.02,579.67 553.27,575.95 556.51,573.88 559.76,576.92 563,583.05 566.25,587.6 569.49,590.36 572.73,598.14 575.98,606.35 579.22,613.51 582.47,613.24 585.71,612.13 588.96,607.72 592.2,600.21" fill="none" stroke="rgb(30,60,255)" stroke-width="1.4" stroke-linejoin="round" stroke-linecap="round"/>
</g>
<path d="M50.4 640.6H592.2M50.4 619.92H592.2M50.4 599.25H592.2M50.4 578.57H592.2M50.4 557.89H592.2" stroke="rgb(160,160,160)" stroke-width="1.25" stroke-dasharray="1.6 4.88" fill="none"/>
<path d="M50.4 551V640.6M128.26 551V640.6M206.13 551V640.6M283.99 551V640.6M361.85 551V640.6M439.72 551V640.6M517.58 551V640.6" stroke="rgb(160,160,160)" stroke-width="1.25" stroke-dasharray="1.6 4.88" fill="none"/>
<path d="M49.6 551H593" stroke="#000" stroke-width="1.5" fill="none"/>
<path d="M49.6 640.6H593" stroke="#000" stroke-width="1.5" stroke-dasharray="5.5 0.98" stroke-dashoffset="-1.2" fill="none"/>
<path d="M50.4 551V640.6" stroke="#000" stroke-width="1.8" stroke-dasharray="5.5 0.98" stroke-dashoffset="-1.2" fill="none"/>
<path d="M592.2 551V640.6" stroke="#000" stroke-width="1.8" fill="none"/>
<path d="M46.8 640.6H50.4M46.8 619.92H50.4M46.8 599.25H50.4M46.8 578.57H50.4M46.8 557.89H50.4M50.4 640.6V644.4M128.26 640.6V644.4M206.13 640.6V644.4M283.99 640.6V644.4M361.85 640.6V644.4M439.72 640.6V644.4M517.58 640.6V644.4" stroke="#000" stroke-width="1.3" fill="none"/>
<text x="44.6" y="645.35" font-size="11.3" fill="#000" textLength="25.31" lengthAdjust="spacingAndGlyphs" text-anchor="end" stroke="#000" stroke-width="0.28" xml:space="preserve">1008</text>
<text x="44.6" y="624.67" font-size="11.3" fill="#000" textLength="25.31" lengthAdjust="spacingAndGlyphs" text-anchor="end" stroke="#000" stroke-width="0.28" xml:space="preserve">1011</text>
<text x="44.6" y="604" font-size="11.3" fill="#000" textLength="25.31" lengthAdjust="spacingAndGlyphs" text-anchor="end" stroke="#000" stroke-width="0.28" xml:space="preserve">1014</text>
<text x="44.6" y="583.32" font-size="11.3" fill="#000" textLength="25.31" lengthAdjust="spacingAndGlyphs" text-anchor="end" stroke="#000" stroke-width="0.28" xml:space="preserve">1017</text>
<text x="44.6" y="562.64" font-size="11.3" fill="#000" textLength="25.31" lengthAdjust="spacingAndGlyphs" text-anchor="end" stroke="#000" stroke-width="0.28" xml:space="preserve">1020</text>
<text x="50.2" y="654.6" font-size="11.3" fill="#000" textLength="25.31" lengthAdjust="spacingAndGlyphs" text-anchor="middle" stroke="#000" stroke-width="0.28" xml:space="preserve">7APR</text>
<text x="128.06" y="654.6" font-size="11.3" fill="#000" textLength="25.31" lengthAdjust="spacingAndGlyphs" text-anchor="middle" stroke="#000" stroke-width="0.28" xml:space="preserve">8APR</text>
<text x="205.93" y="654.6" font-size="11.3" fill="#000" textLength="25.31" lengthAdjust="spacingAndGlyphs" text-anchor="middle" stroke="#000" stroke-width="0.28" xml:space="preserve">9APR</text>
<text x="283.79" y="654.6" font-size="11.3" fill="#000" textLength="31.97" lengthAdjust="spacingAndGlyphs" text-anchor="middle" stroke="#000" stroke-width="0.28" xml:space="preserve">10APR</text>
<text x="361.65" y="654.6" font-size="11.3" fill="#000" textLength="31.97" lengthAdjust="spacingAndGlyphs" text-anchor="middle" stroke="#000" stroke-width="0.28" xml:space="preserve">11APR</text>
<text x="439.52" y="654.6" font-size="11.3" fill="#000" textLength="31.97" lengthAdjust="spacingAndGlyphs" text-anchor="middle" stroke="#000" stroke-width="0.28" xml:space="preserve">12APR</text>
<text x="517.38" y="654.6" font-size="11.3" fill="#000" textLength="31.97" lengthAdjust="spacingAndGlyphs" text-anchor="middle" stroke="#000" stroke-width="0.28" xml:space="preserve">13APR</text>
<text x="50.2" y="665.5" font-size="11.3" fill="#000" textLength="25.31" lengthAdjust="spacingAndGlyphs" text-anchor="middle" stroke="#000" stroke-width="0.28" xml:space="preserve">2026</text>
<g clip-path="url(#c5)">
<path d="M65.3 766.6V746.89h2.84V766.6M68.54 766.6V745.99h2.84V766.6M94.5 766.6V728.97h2.84V766.6M97.74 766.6V711.94h2.84V766.6M100.99 766.6V694.92h2.84V766.6M104.23 766.6V677h2.84V766.6M107.48 766.6V681.93h2.84V766.6M110.72 766.6V677h2.84V766.6M113.96 766.6V694.92h2.84V766.6M117.21 766.6V697.07h2.84V766.6M120.45 766.6V677h2.84V766.6M123.7 766.6V677h2.84V766.6M126.94 766.6V677h2.84V766.6M130.19 766.6V677h2.84V766.6M133.43 766.6V677h2.84V766.6M136.67 766.6V677h2.84V766.6M139.92 766.6V677h2.84V766.6M143.16 766.6V677h2.84V766.6M146.41 766.6V677h2.84V766.6M149.65 766.6V677h2.84V766.6M152.9 766.6V677h2.84V766.6M156.14 766.6V677h2.84V766.6M159.38 766.6V732.55h2.84V766.6M162.63 766.6V702.09h2.84V766.6M165.87 766.6V681.48h2.84V766.6M169.12 766.6V677h2.84V766.6M172.36 766.6V677h2.84V766.6M175.61 766.6V677h2.84V766.6M178.85 766.6V683.27h2.84V766.6M182.09 766.6V719.11h2.84V766.6M185.34 766.6V679.69h2.84V766.6M188.58 766.6V677.9h2.84V766.6M191.83 766.6V696.26h2.84V766.6M195.07 766.6V704.24h2.84V766.6M198.32 766.6V723.59h2.84V766.6M201.56 766.6V763.91h2.84V766.6M341.07 766.6V747.87h2.84V766.6M519.5 766.6V762.12h2.84V766.6M522.75 766.6V704.51h2.84V766.6M525.99 766.6V694.38h2.84V766.6M529.24 766.6V746.26h2.84V766.6M532.48 766.6V745.28h2.84V766.6M538.97 766.6V754.24h2.84V766.6M542.21 766.6V705.67h2.84V766.6M558.43 766.6V710.87h2.84V766.6M568.17 766.6V725.56h2.84V766.6M571.41 766.6V710.06h2.84V766.6M574.66 766.6V699.4h2.84V766.6M577.9 766.6V689.36h2.84V766.6M581.14 766.6V690.44h2.84V766.6M587.63 766.6V708.36h2.84V766.6M590.88 766.6V677h2.84V766.6" fill="rgb(248,186,134)" stroke="rgb(240,130,40)" stroke-width="1" stroke-linejoin="miter"/>
<path d="M52.47 766.6V761.4h2.54V766.6M101.14 766.6V746.26h2.54V766.6M107.63 766.6V763.46h2.54V766.6M110.87 766.6V763.46h2.54V766.6M123.85 766.6V765.7h2.54V766.6M127.09 766.6V763.46h2.54V766.6M130.34 766.6V759.97h2.54V766.6M133.58 766.6V761.4h2.54V766.6M140.07 766.6V757.64h2.54V766.6M143.31 766.6V756.74h2.54V766.6M146.56 766.6V760.69h2.54V766.6M149.8 766.6V702.09h2.54V766.6M153.05 766.6V732.55h2.54V766.6M156.29 766.6V763.46h2.54V766.6M162.78 766.6V756.74h2.54V766.6M166.02 766.6V736.14h2.54V766.6M169.27 766.6V751.73h2.54V766.6M172.51 766.6V737.57h2.54V766.6M175.76 766.6V748.95h2.54V766.6M179 766.6V740.35h2.54V766.6M182.24 766.6V765.7h2.54V766.6M185.49 766.6V758.63h2.54V766.6M188.73 766.6V755.22h2.54V766.6M191.98 766.6V761.4h2.54V766.6M195.22 766.6V764.09h2.54V766.6M337.97 766.6V765.7h2.54V766.6M347.7 766.6V765.7h2.54V766.6M360.68 766.6V764.09h2.54V766.6M568.32 766.6V746.89h2.54V766.6M571.56 766.6V727.36h2.54V766.6M574.81 766.6V748.95h2.54V766.6M591.03 766.6V752.44h2.54V766.6" fill="rgba(60,210,30,0.55)" stroke="rgb(40,205,20)" stroke-width="1.1" stroke-linejoin="miter"/>
</g>
<path d="M50.4 766.6H592.2M50.4 748.68H592.2M50.4 730.76H592.2M50.4 712.84H592.2M50.4 694.92H592.2M50.4 677H592.2" stroke="rgb(160,160,160)" stroke-width="1.25" stroke-dasharray="1.6 4.88" fill="none"/>
<path d="M50.4 677V766.6M128.26 677V766.6M206.13 677V766.6M283.99 677V766.6M361.85 677V766.6M439.72 677V766.6M517.58 677V766.6" stroke="rgb(160,160,160)" stroke-width="1.25" stroke-dasharray="1.6 4.88" fill="none"/>
<path d="M49.6 677H593" stroke="#000" stroke-width="1.5" stroke-dasharray="5.5 0.98" stroke-dashoffset="-1.2" fill="none"/>
<path d="M49.6 766.6H593" stroke="#000" stroke-width="1.5" stroke-dasharray="5.5 0.98" stroke-dashoffset="-1.2" fill="none"/>
<path d="M50.4 677V766.6" stroke="#000" stroke-width="1.8" stroke-dasharray="5.5 0.98" stroke-dashoffset="-1.2" fill="none"/>
<path d="M592.2 677V766.6" stroke="#000" stroke-width="1.8" fill="none"/>
<path d="M46.8 766.6H50.4M46.8 748.68H50.4M46.8 730.76H50.4M46.8 712.84H50.4M46.8 694.92H50.4M46.8 677H50.4M50.4 766.6V770.4M128.26 766.6V770.4M206.13 766.6V770.4M283.99 766.6V770.4M361.85 766.6V770.4M439.72 766.6V770.4M517.58 766.6V770.4" stroke="#000" stroke-width="1.3" fill="none"/>
<text x="44.6" y="771.35" font-size="11.3" fill="#000" textLength="5.33" lengthAdjust="spacingAndGlyphs" text-anchor="end" stroke="#000" stroke-width="0.28" xml:space="preserve">0</text>
<text x="44.6" y="753.43" font-size="11.3" fill="#000" textLength="11.99" lengthAdjust="spacingAndGlyphs" text-anchor="end" stroke="#000" stroke-width="0.28" xml:space="preserve">20</text>
<text x="44.6" y="735.51" font-size="11.3" fill="#000" textLength="11.99" lengthAdjust="spacingAndGlyphs" text-anchor="end" stroke="#000" stroke-width="0.28" xml:space="preserve">40</text>
<text x="44.6" y="717.59" font-size="11.3" fill="#000" textLength="11.99" lengthAdjust="spacingAndGlyphs" text-anchor="end" stroke="#000" stroke-width="0.28" xml:space="preserve">60</text>
<text x="44.6" y="699.67" font-size="11.3" fill="#000" textLength="11.99" lengthAdjust="spacingAndGlyphs" text-anchor="end" stroke="#000" stroke-width="0.28" xml:space="preserve">80</text>
<text x="44.6" y="681.75" font-size="11.3" fill="#000" textLength="18.65" lengthAdjust="spacingAndGlyphs" text-anchor="end" stroke="#000" stroke-width="0.28" xml:space="preserve">100</text>
<text x="50.2" y="780.6" font-size="11.3" fill="#000" textLength="25.31" lengthAdjust="spacingAndGlyphs" text-anchor="middle" stroke="#000" stroke-width="0.28" xml:space="preserve">7APR</text>
<text x="128.06" y="780.6" font-size="11.3" fill="#000" textLength="25.31" lengthAdjust="spacingAndGlyphs" text-anchor="middle" stroke="#000" stroke-width="0.28" xml:space="preserve">8APR</text>
<text x="205.93" y="780.6" font-size="11.3" fill="#000" textLength="25.31" lengthAdjust="spacingAndGlyphs" text-anchor="middle" stroke="#000" stroke-width="0.28" xml:space="preserve">9APR</text>
<text x="283.79" y="780.6" font-size="11.3" fill="#000" textLength="31.97" lengthAdjust="spacingAndGlyphs" text-anchor="middle" stroke="#000" stroke-width="0.28" xml:space="preserve">10APR</text>
<text x="361.65" y="780.6" font-size="11.3" fill="#000" textLength="31.97" lengthAdjust="spacingAndGlyphs" text-anchor="middle" stroke="#000" stroke-width="0.28" xml:space="preserve">11APR</text>
<text x="439.52" y="780.6" font-size="11.3" fill="#000" textLength="31.97" lengthAdjust="spacingAndGlyphs" text-anchor="middle" stroke="#000" stroke-width="0.28" xml:space="preserve">12APR</text>
<text x="517.38" y="780.6" font-size="11.3" fill="#000" textLength="31.97" lengthAdjust="spacingAndGlyphs" text-anchor="middle" stroke="#000" stroke-width="0.28" xml:space="preserve">13APR</text>
<text x="50.2" y="791.5" font-size="11.3" fill="#000" textLength="25.31" lengthAdjust="spacingAndGlyphs" text-anchor="middle" stroke="#000" stroke-width="0.28" xml:space="preserve">2026</text>
<g clip-path="url(#c5)">
<path d="M50.4 766.6H592.2" stroke="rgb(30,60,255)" stroke-width="1.8" stroke-dasharray="5.3 1.18" stroke-dashoffset="-1.3"/>
<path d="M97.86 766.6V720.9h2.6V766.6M101.11 766.6V702.09h2.6V766.6M104.35 766.6V750.74h2.6V766.6M127.06 766.6V759.07h2.6V766.6M130.31 766.6V753.52h2.6V766.6M146.53 766.6V756.74h2.6V766.6M156.26 766.6V762.48h2.6V766.6M165.99 766.6V764.09h2.6V766.6M169.24 766.6V744.56h2.6V766.6M172.48 766.6V729.86h2.6V766.6M175.73 766.6V706.57h2.6V766.6M178.97 766.6V730.76h2.6V766.6M182.21 766.6V720.9h2.6V766.6M185.46 766.6V712.84h2.6V766.6M188.7 766.6V746.89h2.6V766.6M191.95 766.6V738.82h2.6V766.6M195.19 766.6V760.69h2.6V766.6M198.44 766.6V742.41h2.6V766.6M201.68 766.6V754.5h2.6V766.6M204.92 766.6V749.4h2.6V766.6M208.17 766.6V758.63h2.6V766.6M211.41 766.6V749.4h2.6V766.6M214.66 766.6V735.51h2.6V766.6M217.9 766.6V719.83h2.6V766.6M221.15 766.6V702.63h2.6V766.6M224.39 766.6V682.91h2.6V766.6M227.63 766.6V681.12h2.6V766.6M230.88 766.6V681.12h2.6V766.6M234.12 766.6V684.71h2.6V766.6M237.37 766.6V689.1h2.6V766.6M240.61 766.6V702.63h2.6V766.6M243.86 766.6V732.55h2.6V766.6M247.1 766.6V730.76h2.6V766.6M250.35 766.6V765.52h2.6V766.6M266.57 766.6V764.54h2.6V766.6M269.81 766.6V765.52h2.6V766.6M305.5 766.6V765.52h2.6V766.6M308.74 766.6V760.42h2.6V766.6M311.99 766.6V758.63h2.6V766.6M315.23 766.6V761.13h2.6V766.6M318.48 766.6V765.7h2.6V766.6M344.43 766.6V764.81h2.6V766.6M347.67 766.6V761.4h2.6V766.6M350.92 766.6V754.5h2.6V766.6M354.16 766.6V740.71h2.6V766.6M357.41 766.6V700.12h2.6V766.6M360.65 766.6V687.75h2.6V766.6M363.9 766.6V725.56h2.6V766.6M367.14 766.6V757.64h2.6V766.6M383.36 766.6V764.09h2.6V766.6M386.61 766.6V765.08h2.6V766.6M389.85 766.6V763.2h2.6V766.6M393.09 766.6V765.52h2.6V766.6M396.34 766.6V765.7h2.6V766.6M402.83 766.6V765.7h2.6V766.6M406.07 766.6V735.51h2.6V766.6M409.32 766.6V726.01h2.6V766.6M412.56 766.6V727.89h2.6V766.6M415.81 766.6V743.48h2.6V766.6M419.05 766.6V763.2h2.6V766.6M422.29 766.6V765.52h2.6V766.6M425.54 766.6V765.52h2.6V766.6M428.78 766.6V765.52h2.6V766.6M487.18 766.6V763.91h2.6V766.6" fill="rgba(30,60,255,0.03)" stroke="rgb(30,60,255)" stroke-width="1" stroke-linejoin="miter"/>
</g>
<text x="107.53 120.49 131.3 140.26 144.75 155.82 167.75 172.5 184.51 195.29 205.41 217.51 229.24 239.63 248.64 259.01" y="12.4" font-size="15" fill="rgb(30,60,255)" stroke="rgb(30,60,255)" stroke-width="0.2" xml:space="preserve">MCTIC INPE CPTEC</text>
<path d="M166.6 0.8L156.9 15.26M216.19 0.8L206.49 15.26" stroke="rgb(30,60,255)" stroke-width="1.25" fill="none" stroke-linecap="round"/>
<path d="M278.2 7.9H292.6" stroke="rgb(30,60,255)" stroke-width="1.4"/>
<text x="304.21 317.23 329.42 340.8 351.49 360.51 374.67 381.48 392.85 402.98 414.67 419.14 431.61 442.98 453.4 464.53 470.49 484.49 496" y="12.4" font-size="15" fill="rgb(30,60,255)" stroke="rgb(30,60,255)" stroke-width="0.2" xml:space="preserve">MODELO REGIONAL WRF</text>
<text x="35.49 45.18 57.31 63.07 66.4 74.16 83.04 95.06 104.42 113.39 123.16 132.12 141.89" y="26.7" font-size="14.6" fill="rgb(240,130,40)" stroke="rgb(240,130,40)" stroke-width="0.2" xml:space="preserve">PR ITAMBARACA</text>
<text x="200.25 209.84 218.69 229.96 239.54 248.39 259.67 269.25 278.83 288.41 299.07 305.66 315.24 324.43" y="26.7" font-size="14.6" fill="rgb(240,130,40)" stroke="rgb(240,130,40)" stroke-width="0.2" xml:space="preserve">07 04 2026 00Z</text>
<path d="M228.27 15.44L219.65 29.47M257.98 15.44L249.35 29.47" stroke="rgb(240,130,40)" stroke-width="1.25" fill="none" stroke-linecap="round"/>
<text x="360.01 369.57 378.68 383.9 393.46 403.01 412.57 420.37 434.59 441.24 450.8 459.91 465.13 474.69 484.24 493.8 502.58 513.9 520.55 530.11 539.67 549.67" y="42.4" font-size="14" fill="rgb(240,130,40)" stroke="rgb(240,130,40)" stroke-width="0.2" xml:space="preserve">50.4064W 23.0178S 402m</text>
<text x="71.31 81.04 86.37 94.67 102.25 105.96 114.14 118.17 123.13 131.65 139.42 147.79 157.36 163.59 169.93 183.14 195.32 205.47 214.23" y="44.4" font-size="13.4" fill="#000" stroke="#000" stroke-width="0.15" xml:space="preserve">Precipitacao (mm h)</text>
<path d="M204.13 34.17L196.2 46.88" stroke="#000" stroke-width="1.25" fill="none" stroke-linecap="round"/>
<text x="72.43 80.55 92.98 106.8 111.6 119.43 128.12 140.74 148.87 157.17 162.71 171.38 176.33 184.85 190.38 199.94 206.16 211.24 221.53" y="170.5" font-size="13.4" fill="#000" stroke="#000" stroke-width="0.15" xml:space="preserve">2 m Temperatura (C)</text>
<path d="M82.31 166.32H90.21" stroke="#000" stroke-width="1.25" fill="none" stroke-linecap="round"/>
<text x="358.28 366.11 374.78 387.38 395.5 403.79 409.31 417.98 422.91 431.43 436.95 446.49 451.34 460.2 468.53 477.05 482.35 490.47 499.13 503.85 513.17 519.38 524.45 534.73" y="170.5" font-size="13.4" fill="rgb(0,200,200)" stroke="rgb(0,200,200)" stroke-width="0.15" xml:space="preserve">Temperatura Aparente (C)</text>
<text x="71.77 82.48 94.94 98.65 107.03 115.4 123.55 132.9 138.08 147.78 155.75 159.46 168.15 172.93 176.36 183.69 193.27 198.89 207.61 221.46 227.53 236.69 250.54 256.78 261.43 273.53" y="296.7" font-size="13.4" fill="#000" stroke="#000" stroke-width="0.15" xml:space="preserve">Umidade Relativa em 2m (%)</text>
<text x="71.28 80.02 88.24 96.99 102.02 111.66 117.35 126.16 140.11 146.24 155.13 164.39 178.33 184.62 191.05 203.3 213.51 221.51" y="422.8" font-size="13.4" fill="#000" stroke="#000" stroke-width="0.15" xml:space="preserve">Vento em 10m (m s)</text>
<path d="M212.19 412.57L204.19 425.28" stroke="#000" stroke-width="1.25" fill="none" stroke-linecap="round"/>
<text x="71.15 80.95 86.36 94.52 102.09 109.72 118.18 127.83 133.76 142.22 151.87 157.35 167.38 170.86 178.05 186.07 191.04 196.22 207.42 215.66 223.9 227.67 237.33 243.25 251.71 261.36 266.55 277.97 286.59 293.41 299.72 305.57 313.73 323.37 332.21" y="548.8" font-size="13.4" fill="#000" stroke="#000" stroke-width="0.15" xml:space="preserve">Pressao ao Nivel Medio do Mar (hPa)</text>
<text x="71.55 81.48 89.85 98.01 106.34 112.22 117.19 125.74 131.29 140.87 146.72 154.88 164.24 169.64 179.79 187.88 195 203.16 211.47 220.23 226.47 231.12 243.23" y="674.4" font-size="13.4" fill="#000" stroke="#000" stroke-width="0.15" xml:space="preserve">Cobertura de Nuvens (%)</text>
<text x="263.16 271.58 279.75 286.88 295.09 303.48 312.4 318.15 326.58 334.97 338.52 346.09 354.48" y="674.4" font-size="14.4" fill="rgb(30,60,255)" stroke="rgb(30,60,255)" stroke-width="0.55" xml:space="preserve">nuvens baixas</text>
<text x="380.89 389.41 397.67 404.89 413.19 421.67 430.68 437 449.76 458.06 466.52 470.18 478.66" y="674.4" font-size="14.4" fill="rgb(0,220,0)" stroke="rgb(0,220,0)" stroke-width="0.55" xml:space="preserve">nuvens medias</text>
<text x="499.7 508.27 516.57 523.83 532.18 540.7 549.74 555.63 564.12 568.23 573.22 581.74" y="674.4" font-size="14.4" fill="rgb(240,130,40)" stroke="rgb(240,130,40)" stroke-width="0.55" xml:space="preserve">nuvens altas</text>
<rect x="252.5" y="662.4" width="6.7" height="10.2" fill="none" stroke="rgb(30,60,255)" stroke-width="1.1"/>
<rect x="372.3" y="662.4" width="6.7" height="10.2" fill="none" stroke="rgb(0,220,0)" stroke-width="1.1"/>
<rect x="492.3" y="662.4" width="6.7" height="10.2" fill="none" stroke="rgb(240,130,40)" stroke-width="1.1"/>
</svg>
</body></html>
